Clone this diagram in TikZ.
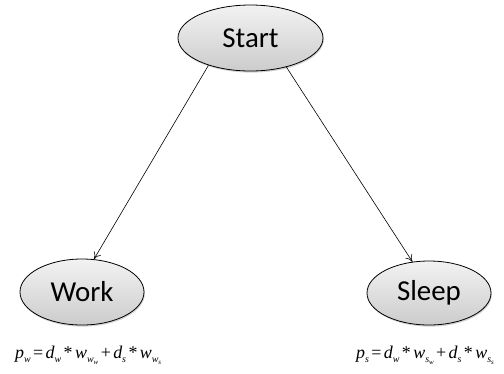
\documentclass[tikz,border=0pt]{standalone}
\usepackage{fontspec}
\setmainfont{Liberation Serif}
\newfontfamily\labelfont{Carlito}
\usetikzlibrary{arrows.meta,shadows,shapes.geometric}
% subscript helpers for the update formulas
\newcommand{\fsub}[2]{#1\raisebox{-0.5ex}{\fontsize{10}{10}\selectfont #2}}
\newcommand{\fsubsub}[3]{#1\raisebox{-0.5ex}{\fontsize{10}{10}\selectfont #2\raisebox{-0.6ex}{\fontsize{7}{7}\selectfont #3}}}
\newcommand{\fop}[1]{\hspace{2.4bp}{\upshape #1}\hspace{2.4bp}}
\begin{document}
\begin{tikzpicture}[x=1bp,y=-1bp,
  state/.style={ellipse,draw=black,line width=0.8pt,
    top color=gray!10,bottom color=gray!40,
    drop shadow={shadow xshift=0.8bp,shadow yshift=-1.6bp,opacity=0.35},
    font=\labelfont\fontsize{29}{29}\selectfont,inner sep=0pt},
  link/.style={draw=black,line width=0.6pt,-{To[length=7bp,width=8bp]}},
  formula/.style={anchor=base west,inner sep=0pt,font=\itshape\fontsize{18}{18}\selectfont}]
\useasboundingbox (0,0) rectangle (504,373);
\clip (0,0) rectangle (504,373);
\node[state,minimum width=145bp,minimum height=66bp] (start) at (250.5,38) {Start};
\node[state,minimum width=124bp,minimum height=66bp] (work) at (82,292) {Work};
\node[state,minimum width=124bp,minimum height=64bp] (sleep) at (429,293) {Sleep};
\draw[link] (start.213) -- (work.70);
\draw[link] (start.321) -- (sleep.118);
\node[formula] (pw) at (15,358)
  {\fsub{p}{w}\fop{=}\fsub{d}{w}\fop{*}\fsubsub{w}{w}{w}\fop{+}\fsub{d}{s}\fop{*}\fsubsub{w}{w}{s}};
\node[formula] (ps) at (356,358)
  {\fsub{p}{s}\fop{=}\fsub{d}{w}\fop{*}\fsubsub{w}{s}{w}\fop{+}\fsub{d}{s}\fop{*}\fsubsub{w}{s}{s}};
\end{tikzpicture}
\end{document}
